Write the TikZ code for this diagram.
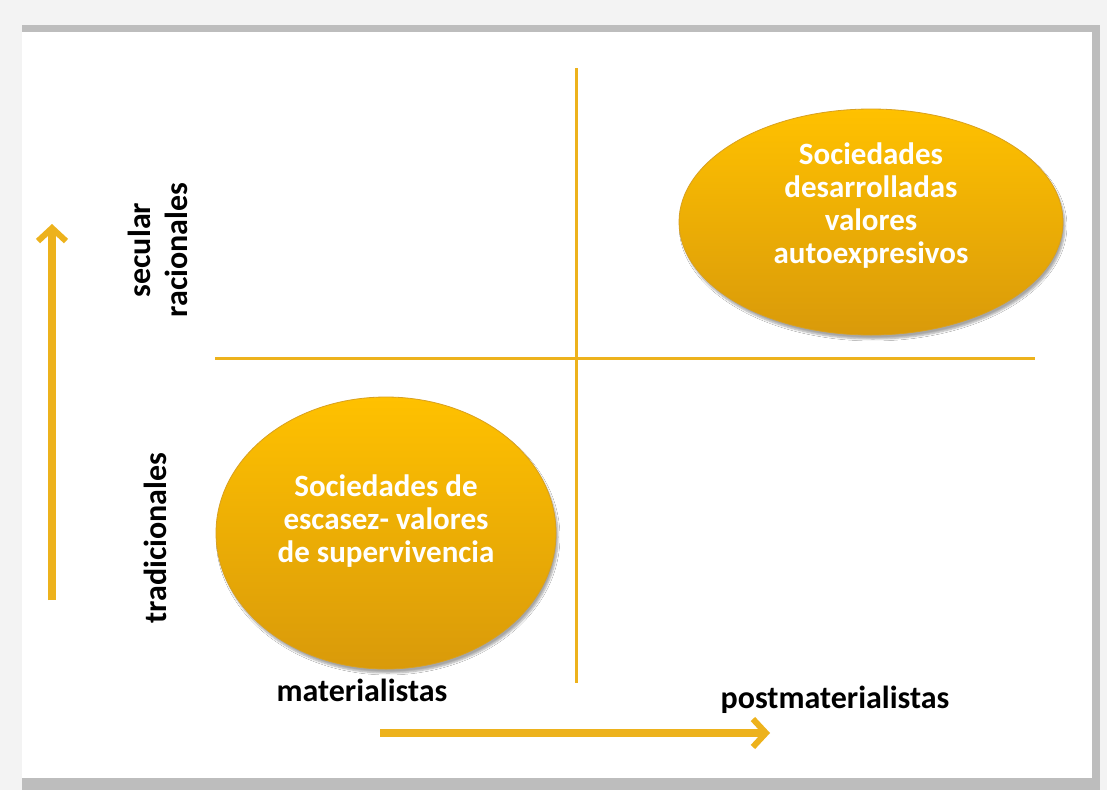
\documentclass[tikz,border=0pt]{standalone}
\usepackage{fontspec}
\setmainfont{Carlito}
\usetikzlibrary{shapes.geometric,arrows.meta,shadows.blur}
\definecolor{gold}{HTML}{EDB21C}
\definecolor{goldtop}{HTML}{FFC100}
\definecolor{goldbot}{HTML}{D99A0A}
\definecolor{goldrim}{HTML}{D8A020}
\definecolor{bggray}{HTML}{F3F3F3}
\definecolor{shadowgray}{HTML}{BDBDBD}
\tikzset{
  axisline/.style={draw=gold, line width=3pt},
  axisarrow/.style={draw=gold, line width=8pt, -{Straight Barb[length=13pt,width=28pt,line width=6pt]}},
  blob/.style={ellipse, top color=goldtop, bottom color=goldbot, draw=goldrim, line width=0.8pt, inner sep=0pt,
     blur shadow={shadow xshift=2pt, shadow yshift=-4pt, shadow blur steps=6, shadow opacity=35}},
  blobtext/.style={text=white, font=\bfseries\fontsize{31}{33}\selectfont, align=center},
  lbl/.style={font=\bfseries\fontsize{32}{37}\selectfont, text=black, align=center}
}
\begin{document}
\begin{tikzpicture}[x=1pt,y=-1pt]
\useasboundingbox (0,0) rectangle (1107,790);
% frame
\fill[bggray] (0,0) rectangle (1107,790);
\fill[shadowgray] (22,25) rectangle (1100,790);
\fill[white] (22,32) rectangle (1092,778);
% quadrant lines
\coordinate (vt) at (576,68);
\coordinate (vb) at (576,683);
\coordinate (hl) at (215,358);
\coordinate (hr) at (1035,358);
\draw[axisline] (vt) -- (vb);
\draw[axisline] (hl) -- (hr);
% ellipses
\node[blob, minimum width=384pt, minimum height=226pt] (tr) at (871,222) {};
\node[blobtext] (trt) at (871,206)
  {Sociedades\\desarrolladas\\valores\\autoexpresivos};
\node[blob, minimum width=340pt, minimum height=272pt] (bl) at (386,533) {};
\node[blobtext] (blt) at (386,521)
  {Sociedades de\\escasez- valores\\de supervivencia};
% arrows
\coordinate (ua) at (52,600);
\coordinate (ub) at (52,224);
\draw[axisarrow] (ua) -- (ub);
\coordinate (ra) at (380,733);
\coordinate (rb) at (770,733);
\draw[axisarrow] (ra) -- (rb);
% labels
\node[lbl, rotate=90] (sec) at (158,250) {secular\\racionales};
\node[lbl, rotate=90] (trad) at (155,538) {tradicionales};
\node[lbl] (mat) at (362,690) {materialistas};
\node[lbl] (post) at (835,700) {postmaterialistas};
\end{tikzpicture}
\end{document}
